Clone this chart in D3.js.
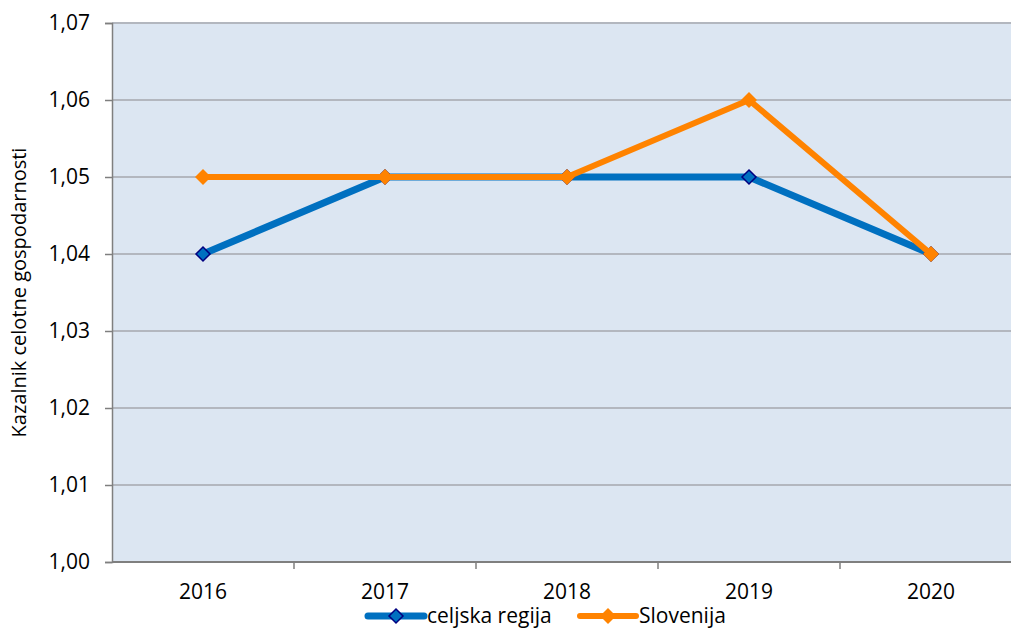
<!DOCTYPE html>
<html>
<head>
<meta charset="utf-8">
<script src="https://cdn.jsdelivr.net/npm/d3@7"></script>
<style>
  body { margin: 0; background: #fff; }
  svg { display: block; font-family: "Open Sans", "Noto Sans", sans-serif; }
</style>
</head>
<body>
<div class="chart"></div>
<script>
const years = ['2016', '2017', '2018', '2019', '2020'];
const celjska = [1.04, 1.05, 1.05, 1.05, 1.04];
const slovenija = [1.05, 1.05, 1.05, 1.06, 1.04];
const yTicks = [1.00, 1.01, 1.02, 1.03, 1.04, 1.05, 1.06, 1.07];

const width = 1011;
const height = 630;
const margin = { top: 23, right: -11, bottom: 68, left: 112 };

const svg = d3.select('.chart')
  .append('svg')
  .attr('width', width)
  .attr('height', height);

const x = d3.scaleBand()
  .domain(years)
  .range([margin.left, width - margin.right]);

const y = d3.scaleLinear()
  .domain([1.00, 1.07])
  .range([height - margin.bottom, margin.top]);

const fmt = (v) => d3.format('.2f')(v).replace('.', ',');

// plot background
svg.append('rect')
  .attr('x', margin.left)
  .attr('y', margin.top)
  .attr('width', width - margin.right - margin.left)
  .attr('height', y(1.00) - margin.top)
  .attr('fill', '#dce6f2');

// gridlines
svg.append('g')
  .selectAll('line')
  .data(yTicks.slice(1))
  .join('line')
  .attr('x1', margin.left)
  .attr('x2', width)
  .attr('y1', (d) => y(d))
  .attr('y2', (d) => y(d))
  .attr('stroke', '#b3b7bf')
  .attr('stroke-width', 2);

// y axis
const yAxis = d3.axisLeft(y)
  .tickValues(yTicks)
  .tickFormat(fmt)
  .tickSize(7)
  .tickPadding(15);

const gY = svg.append('g')
  .attr('transform', `translate(${margin.left},0)`)
  .call(yAxis);
gY.select('.domain').attr('stroke', '#7f7f7f').attr('stroke-width', 1.5);
gY.selectAll('.tick line').attr('stroke', '#7f7f7f').attr('stroke-width', 1.5);
gY.selectAll('.tick text')
  .attr('font-size', 21)
  .attr('fill', '#000')
  .attr('font-family', '"Open Sans", sans-serif');

// x axis
const xAxis = d3.axisBottom(x)
  .tickSize(0)
  .tickPadding(22);

const gX = svg.append('g')
  .attr('transform', `translate(0,${y(1.00)})`)
  .call(xAxis);
gX.select('.domain').remove();
gX.append('line')
  .attr('x1', margin.left)
  .attr('x2', width)
  .attr('stroke', '#7f7f7f')
  .attr('stroke-width', 2);
gX.selectAll('.tick text')
  .attr('font-size', 21)
  .attr('fill', '#000')
  .attr('font-family', '"Open Sans", sans-serif');

// category boundary ticks
gX.selectAll('.boundary')
  .data(years.slice(1))
  .join('line')
  .attr('class', 'boundary')
  .attr('x1', (d) => x(d))
  .attr('x2', (d) => x(d))
  .attr('y1', 0)
  .attr('y2', 7)
  .attr('stroke', '#7f7f7f')
  .attr('stroke-width', 1.5);

// y label
svg.append('text')
  .attr('transform', `translate(26,${(margin.top + y(1.00)) / 2}) rotate(-90)`)
  .attr('text-anchor', 'middle')
  .attr('font-size', 20)
  .attr('fill', '#000')
  .text('Kazalnik celotne gospodarnosti');

const cx = (d, i) => x(years[i]) + x.bandwidth() / 2;
const line = d3.line()
  .x((d, i) => cx(d, i))
  .y((d) => y(d));

const diamond = (r) => `M0,${-r}L${r},0L0,${r}L${-r},0Z`;

// celjska regija
svg.append('path')
  .datum(celjska)
  .attr('fill', 'none')
  .attr('stroke', '#0070c0')
  .attr('stroke-width', 7)
  .attr('stroke-linejoin', 'round')
  .attr('d', line);

svg.append('g')
  .selectAll('path')
  .data(celjska)
  .join('path')
  .attr('transform', (d, i) => `translate(${cx(d, i)},${y(d)})`)
  .attr('d', diamond(7))
  .attr('fill', '#0070c0')
  .attr('stroke', '#000080')
  .attr('stroke-width', 1.5);

// Slovenija
svg.append('path')
  .datum(slovenija)
  .attr('fill', 'none')
  .attr('stroke', '#ff8300')
  .attr('stroke-width', 6)
  .attr('stroke-linejoin', 'round')
  .attr('d', line);

svg.append('g')
  .selectAll('path')
  .data(slovenija)
  .join('path')
  .attr('transform', (d, i) => `translate(${cx(d, i)},${y(d)})`)
  .attr('d', diamond(8))
  .attr('fill', '#ff8300');

// legend
const legend = [
  { name: 'celjska regija', color: '#0070c0', stroke: '#000080', r: 7, w: 7, x: 368 },
  { name: 'Slovenija', color: '#ff8300', stroke: 'none', r: 8, w: 6, x: 580 }
];
const lg = svg.append('g')
  .selectAll('g')
  .data(legend)
  .join('g')
  .attr('transform', (d) => `translate(${d.x},616)`);
lg.append('line')
  .attr('x1', 0)
  .attr('x2', 56)
  .attr('stroke', (d) => d.color)
  .attr('stroke-width', (d) => d.w)
  .attr('stroke-linecap', 'round');
lg.append('path')
  .attr('transform', 'translate(28,0)')
  .attr('d', (d) => diamond(d.r))
  .attr('fill', (d) => d.color)
  .attr('stroke', (d) => d.stroke)
  .attr('stroke-width', 1.5);
lg.append('text')
  .attr('x', 59)
  .attr('dy', '0.35em')
  .attr('font-size', 21)
  .attr('fill', '#000')
  .text((d) => d.name);
</script>
</body>
</html>
